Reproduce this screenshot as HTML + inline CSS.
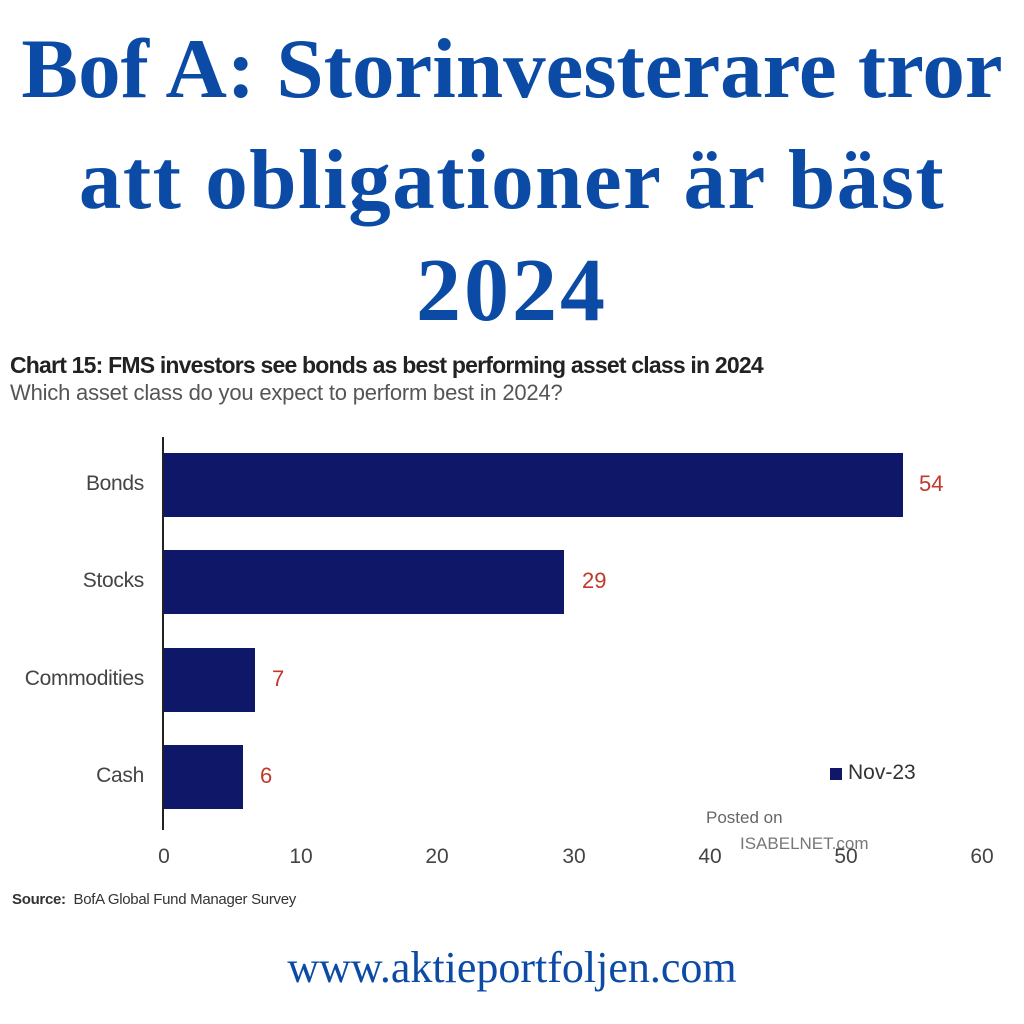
<!DOCTYPE html>
<html><head><meta charset="utf-8"><style>
body{margin:0;width:1024px;height:1024px;background:#fff;position:relative;overflow:hidden;font-family:"Liberation Sans",sans-serif}
.t{position:absolute;left:0;width:1024px;text-align:center;font-family:"Liberation Serif",serif;font-weight:bold;color:#0b4ba6;font-size:85px;line-height:110px}
.a{position:absolute;white-space:nowrap}
.bar{position:absolute;left:164px;background:#0f1769;height:64px}
.lab{position:absolute;right:880px;font-size:21px;color:#444;letter-spacing:-0.3px}
.val{position:absolute;font-size:22px;color:#c0392b}
.tk{position:absolute;top:845px;font-size:21px;color:#444;width:40px;text-align:center;margin-left:-20px}
</style></head><body>
<div class="t" style="top:14px">Bof A: Storinvesterare tror</div>
<div class="t" style="top:125px;letter-spacing:1.5px">att obligationer är bäst</div>
<div class="t" style="top:236px;font-size:90px;letter-spacing:3px">2024</div>
<div class="a" style="left:10px;top:352px;font-size:23px;font-weight:bold;color:#222;letter-spacing:-0.8px">Chart 15: FMS investors see bonds as best performing asset class in 2024</div>
<div class="a" style="left:10px;top:380px;font-size:22px;color:#555;letter-spacing:-0.2px">Which asset class do you expect to perform best in 2024?</div>
<div class="a" style="left:162px;top:437px;width:2px;height:393px;background:#222"></div>
<div class="bar" style="top:453px;width:739px"></div>
<div class="bar" style="top:550px;width:400px"></div>
<div class="bar" style="top:648px;width:91px"></div>
<div class="bar" style="top:745px;width:79px"></div>
<div class="lab" style="top:472px">Bonds</div>
<div class="lab" style="top:569px">Stocks</div>
<div class="lab" style="top:667px">Commodities</div>
<div class="lab" style="top:764px">Cash</div>
<div class="val" style="left:919px;top:471px">54</div>
<div class="val" style="left:582px;top:568px">29</div>
<div class="val" style="left:272px;top:666px">7</div>
<div class="val" style="left:260px;top:763px">6</div>
<div class="a" style="left:830px;top:768px;width:12px;height:12px;background:#0f1769"></div>
<div class="a" style="left:848px;top:761px;font-size:21px;color:#333">Nov-23</div>
<div class="a" style="left:706px;top:808px;font-size:17px;color:#666">Posted on</div>
<div class="a" style="left:740px;top:834px;font-size:17px;color:#777">ISABELNET.com</div>
<div class="tk" style="left:164px">0</div>
<div class="tk" style="left:301px">10</div>
<div class="tk" style="left:437px">20</div>
<div class="tk" style="left:574px">30</div>
<div class="tk" style="left:710px">40</div>
<div class="tk" style="left:846px">50</div>
<div class="tk" style="left:982px">60</div>
<div class="a" style="left:12px;top:891px;font-size:15px;color:#333;letter-spacing:-0.3px"><b>Source:</b>&nbsp; BofA Global Fund Manager Survey</div>
<div class="a" style="left:0;width:1024px;text-align:center;top:942px;font-family:'Liberation Serif',serif;font-size:44px;color:#0b4ba6">www.aktieportfoljen.com</div>
</body></html>
